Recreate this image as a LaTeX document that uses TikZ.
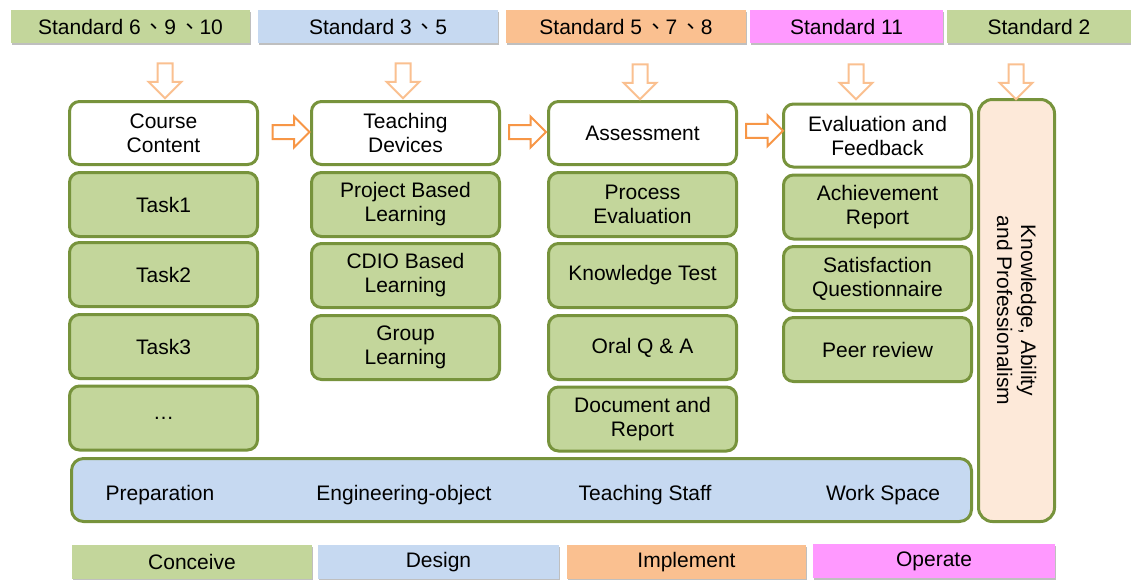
\documentclass[tikz,border=0pt]{standalone}
\usepackage{fontspec}
\setmainfont{Liberation Sans}
\newfontfamily\cjk{Noto Sans CJK TC}
\usetikzlibrary{calc,shapes.arrows,shadows}

\definecolor{cgreen}{HTML}{C3D69B}
\definecolor{cblue}{HTML}{C6D9F1}
\definecolor{corange}{HTML}{FAC090}
\definecolor{cpink}{HTML}{FF99FF}
\definecolor{cpeach}{HTML}{FDE9D9}
\definecolor{olive}{HTML}{77933C}
\definecolor{darrow}{HTML}{FAC090}
\definecolor{rarrow}{HTML}{F79646}
\newcommand{\dun}{\kern3pt{\cjk 、}\kern-0.5pt}

\begin{document}
\begin{tikzpicture}[
  x=1pt, y=-1pt,
  every node/.style={font=\fontsize{21}{24}\selectfont, align=center, inner sep=0pt},
  bar/.style={fill=#1, minimum height=33pt,
    drop shadow={shadow xshift=1pt, shadow yshift=-2pt, fill=black, opacity=0.25}},
  head/.style={draw=olive, line width=3pt, fill=white, rounded corners=10pt,
    minimum width=188pt, minimum height=63pt},
  sub/.style={head, fill=cgreen, minimum height=64pt},
  downarr/.style={single arrow, draw=darrow, line width=2pt, fill=white,
    shape border rotate=270, inner sep=6.5pt, single arrow head extend=9pt,
    single arrow tip angle=90, minimum height=35pt},
  rightarr/.style={single arrow, draw=rarrow, line width=2pt, fill=white,
    inner sep=6pt, single arrow head extend=8.5pt,
    single arrow tip angle=90, minimum height=37pt}
]
\useasboundingbox (0,0) rectangle (1131,579);

% standards
\node [bar=cgreen,  minimum width=239pt] (s1) at (130.5,26.5) {Standard 6\dun9\dun10};
\node [bar=cblue,   minimum width=240pt] (s2) at (378,26.5) {Standard 3\dun5};
\node [bar=corange, minimum width=240pt] (s3) at (626,26.5) {Standard 5\dun7\dun8};
\node [bar=cpink,   minimum width=193pt] (s4) at (846.5,26.5) {Standard 11};
\node [bar=cgreen,  minimum width=184pt] (s5) at (1039,26.5) {Standard 2};

% headers
\node [head] (cc) at (163.5,133) {Course\\Content};
\node [head] (td) at (405.5,133) {Teaching\\Devices};
\node [head] (as) at (642.5,133) {Assessment};
\node [head] (ef) at (877.5,135.5) {Evaluation and\\Feedback};

% course content
\node [sub] (t1) at (163.5,204.5) {Task1};
\node [sub] (t2) at (163.5,274.5) {Task2};
\node [sub] (t3) at (163.5,346.5) {Task3};
\node [sub] (t4) at (163.5,418) {…};

% teaching devices
\node [sub] (pbl) at (405.5,204.5) {Project Based\\Learning};
\node [sub] (cdio) at (405.5,275.5) {CDIO Based\\Learning};
\node [sub] (grp) at (405.5,347.5) {Group\\Learning};

% assessment
\node [sub] (pe) at (642.5,204.5) {Process\\Evaluation};
\node [sub] (kt) at (642.5,275.5) {Knowledge Test};
\node [sub] (oqa) at (642.5,347.5) {Oral Q \& A};
\node [sub] (dr) at (642.5,419) {Document and\\Report};

% evaluation and feedback
\node [sub] (ar) at (877.5,207) {Achievement\\Report};
\node [sub] (sq) at (877.5,278.5) {Satisfaction\\Questionnaire};
\node [sub] (pr) at (877.5,349.5) {Peer review};

% resources
\node [head, fill=cblue, rounded corners=12pt, minimum width=900pt] (res) at (521.5,490) {};
\node [anchor=base] (prep) at (160,500) {Preparation};
\node [anchor=base] (eng) at (404,500) {Engineering-object};
\node [anchor=base] (staff) at (645,500) {Teaching Staff};
\node [anchor=base] (ws) at (883,500) {Work Space};

% outcome
\node [draw=olive, line width=3pt, fill=cpeach, rounded corners=14pt,
  minimum width=76pt, minimum height=422pt] (kap) at (1016.5,310.5) {};
\node [rotate=-90] (kapt) at (kap.center) {Knowledge, Ability\\and Professionalism};

% arrows
\node [downarr] (d1) at (165,77) {};
\node [downarr] (d2) at (403,77) {};
\node [downarr] (d3) at (640,78) {};
\node [downarr] (d4) at (856,78) {};
\node [downarr] (d5) at (1016,78) {};
\node [rightarr] (r1) at ($(cc.east)!0.5!(td.west)+(3,-1)$) {};
\node [rightarr] (r2) at ($(td.east)!0.5!(as.west)+(0,-1)$) {};
\node [rightarr] (r3) at ($(as.east)!0.5!(ef.west)+(1,-3.5)$) {};

% cdio
\node [bar=cgreen,  minimum width=240pt, minimum height=34pt] (c) at (192,562) {Conceive};
\node [bar=cblue,   minimum width=241pt, minimum height=34pt] (d) at (438.5,562) {Design};
\node [bar=corange, minimum width=239pt, minimum height=34pt] (i) at (686.5,562) {Implement};
\node [bar=cpink,   minimum width=242pt, minimum height=34pt] (o) at (934,561) {Operate};
\end{tikzpicture}
\end{document}
